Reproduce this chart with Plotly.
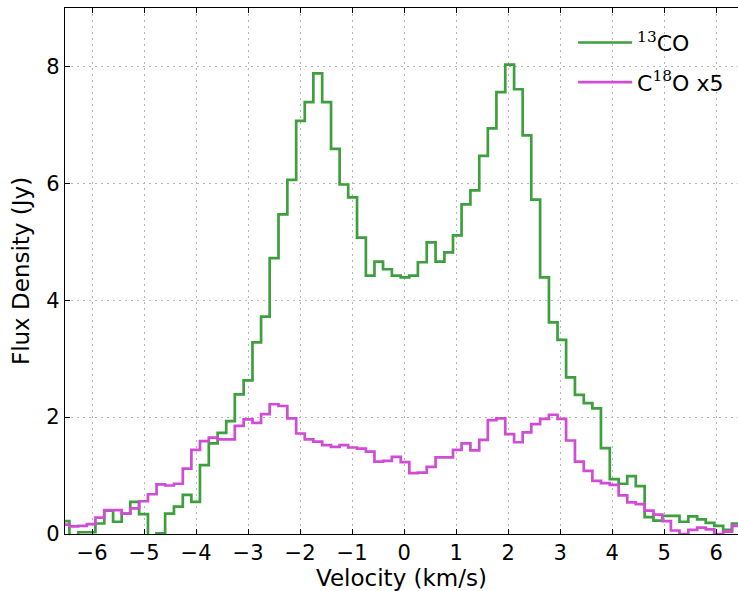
import plotly.graph_objects as go

# Channel-centre velocities (km/s)
velocity = [
    -6.52, -6.35, -6.18, -6.02, -5.85, -5.68, -5.51, -5.35, -5.18, -5.01,
    -4.84, -4.68, -4.51, -4.34, -4.17, -4.01, -3.84, -3.67, -3.50, -3.34,
    -3.17, -3.00, -2.83, -2.67, -2.50, -2.33, -2.16, -1.99, -1.83, -1.66,
    -1.49, -1.32, -1.16, -0.99, -0.82, -0.65, -0.49, -0.32, -0.15, 0.02,
    0.18, 0.35, 0.52, 0.69, 0.86, 1.02, 1.19, 1.36, 1.53, 1.69,
    1.86, 2.03, 2.20, 2.36, 2.53, 2.70, 2.87, 3.03, 3.20, 3.37,
    3.54, 3.70, 3.87, 4.04, 4.21, 4.37, 4.54, 4.71, 4.88, 5.05,
    5.21, 5.38, 5.55, 5.72, 5.88, 6.05, 6.22, 6.39, 6.55,
]

# 13CO flux density (Jy)
flux_13co = [
    0.22, -0.05, 0.03, 0.03, 0.18, 0.40, 0.21, 0.35, 0.55, 0.34,
    -0.15, 0.01, 0.35, 0.47, 0.67, 0.55, 1.18, 1.55, 1.73, 1.93,
    2.39, 2.63, 3.28, 3.72, 4.72, 5.47, 6.06, 7.07, 7.39, 7.88,
    7.39, 6.59, 5.98, 5.76, 5.07, 4.42, 4.66, 4.53, 4.42, 4.39,
    4.42, 4.65, 4.99, 4.66, 4.82, 5.11, 5.64, 5.88, 6.47, 6.94,
    7.56, 8.03, 7.61, 6.82, 5.72, 4.39, 3.62, 3.32, 2.68, 2.38,
    2.24, 2.15, 1.47, 0.94, 0.86, 0.99, 0.82, 0.29, 0.23, 0.31,
    0.31, 0.21, 0.30, 0.25, 0.19, 0.14, 0.07, 0.18, 0.18,
]

# C18O flux density (Jy), scaled by 5
flux_c18o_x5 = [
    0.16, 0.13, 0.14, 0.17, 0.28, 0.41, 0.41, 0.35, 0.44, 0.56,
    0.68, 0.85, 0.83, 0.86, 1.12, 1.44, 1.59, 1.65, 1.62, 1.62,
    1.85, 1.96, 1.90, 2.05, 2.22, 2.19, 1.98, 1.72, 1.62, 1.58,
    1.52, 1.49, 1.52, 1.48, 1.46, 1.41, 1.24, 1.25, 1.32, 1.23,
    1.04, 1.05, 1.15, 1.31, 1.31, 1.44, 1.55, 1.43, 1.61, 1.95,
    1.98, 1.71, 1.57, 1.74, 1.88, 1.97, 2.04, 1.97, 1.60, 1.24,
    1.08, 0.91, 0.87, 0.84, 0.66, 0.54, 0.51, 0.40, 0.33, 0.22,
    0.06, 0.00, 0.07, 0.11, 0.08, 0.00, 0.04, 0.14, 0.14,
]

x_ticks = [-6, -5, -4, -3, -2, -1, 0, 1, 2, 3, 4, 5, 6]
y_ticks = [0, 2, 4, 6, 8]

GREEN = "#3d9f3d"
MAGENTA = "#d04cd6"
FONT = "DejaVu Sans"
SUP = "<sup><span style=\"font-family:'DejaVu Serif'\">{}</span></sup>"

fig = go.Figure()
fig.add_trace(go.Scatter(
    x=velocity, y=flux_13co, mode="lines",
    line=dict(shape="hvh", color=GREEN, width=2.7),
    name=SUP.format("13") + "CO", legendgroup="a",
))
fig.add_trace(go.Scatter(
    x=velocity, y=flux_c18o_x5, mode="lines",
    line=dict(shape="hvh", color=MAGENTA, width=2.7),
    name="C" + SUP.format("18") + "O x5", legendgroup="b",
))

axis_common = dict(
    showline=True, linecolor="black", linewidth=1.3,
    ticks="inside", ticklen=5, tickcolor="black", tickwidth=1,
    showgrid=True, gridcolor="#b5b5b5", gridwidth=1, griddash="2px,4px",
    zeroline=False,
    tickfont=dict(family=FONT, size=21, color="black"),
)

fig.update_xaxes(
    **axis_common,
    range=[-6.52, 6.42], tickvals=x_ticks,
    ticktext=[("\u2212" + str(-t)) if t < 0 else str(t) for t in x_ticks],
    mirror="allticks",
    title=dict(text="Velocity (km/s)", font=dict(family=FONT, size=23, color="black"), standoff=4),
)
fig.update_yaxes(
    **axis_common,
    range=[0, 9], tickvals=y_ticks,
    mirror=False,
    title=dict(text="Flux Density (Jy)", font=dict(family=FONT, size=23, color="black"), standoff=10),
)

fig.update_layout(
    width=738, height=591,
    margin=dict(l=65, r=0, t=8, b=57),
    plot_bgcolor="white", paper_bgcolor="white",
    showlegend=True,
    legend=dict(
        x=0.755, xanchor="left", y=0.974, yanchor="top",
        bgcolor="rgba(0,0,0,0)", borderwidth=0,
        font=dict(family=FONT, size=22, color="black"),
        tracegroupgap=8, itemwidth=54,
    ),
)

fig.write_html("out.html")
